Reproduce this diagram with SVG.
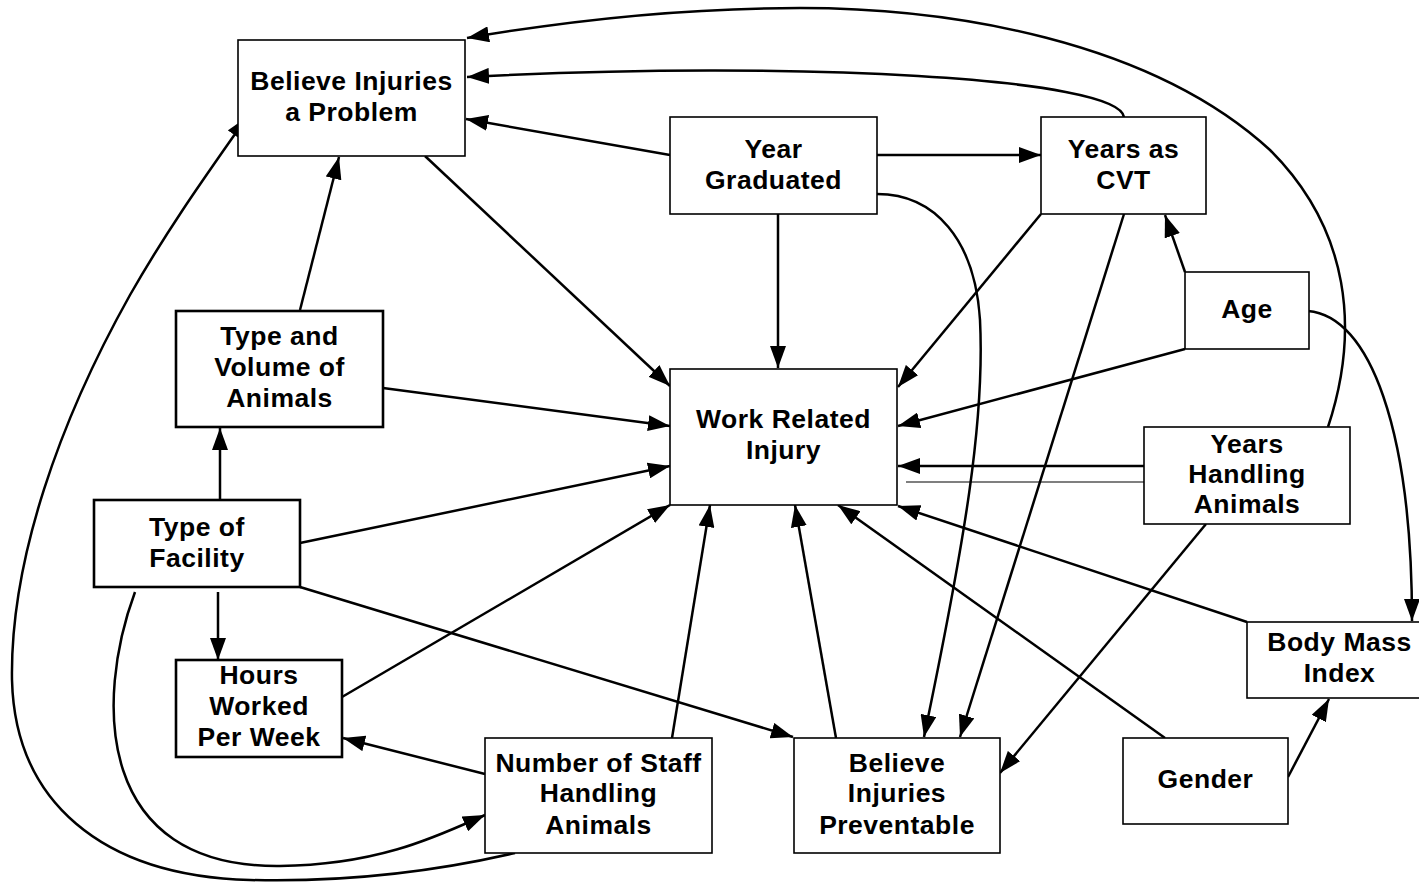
<svg xmlns="http://www.w3.org/2000/svg" width="1419" height="882" viewBox="0 0 1419 882">
<style>
.box{fill:#fff;stroke:#000;stroke-width:1.6}
.thick{stroke-width:2.6}
.lbl{font-family:"Liberation Sans",Arial,sans-serif;font-weight:bold;font-size:26.5px;letter-spacing:0.5px;text-anchor:middle;fill:#000}
.c{fill:none;stroke:#000;stroke-width:2.5;marker-end:url(#ah)}
.thin{fill:none;stroke:#000;stroke-width:1.2}
</style>
<defs>
<marker id="ah" markerUnits="userSpaceOnUse" markerWidth="22" markerHeight="16" refX="22" refY="8" orient="auto">
<path d="M0,0 L22,8 L0,16 z" fill="#000"/>
</marker>
</defs>
<rect width="1419" height="882" fill="#fff"/>
<g id="connectors">
<path class="c" d="M670,155 L466,119"/>
<path class="c" d="M1124,117 C1118,78 800,60 467,77"/>
<path class="c" d="M1328,427 C1360,330 1350,230 1270,150 C1150,40 950,8 800,8 C680,8 560,22 467,38"/>
<path class="c" d="M425,156 L670,386"/>
<path class="c" d="M300,310 L339,157"/>
<path class="c" d="M220,500 L220,428"/>
<path class="c" d="M218,592 L218,660"/>
<path class="c" d="M300,587 L793,737"/>
<path class="c" d="M300,543 L670,466"/>
<path class="c" d="M383,388 L670,426"/>
<path class="c" d="M342,697 L670,505"/>
<path class="c" d="M485,774 L343,738"/>
<path class="c" d="M672,738 L710,505"/>
<path class="c" d="M836,738 L795,505"/>
<path class="c" d="M1165,738 L838,505"/>
<path class="c" d="M1247,622 L898,506"/>
<path class="c" d="M1144,466 L898,466"/>
<path class="thin" d="M906,482 L1153,482"/>
<path class="c" d="M1185,349 L898,426"/>
<path class="c" d="M1041,214 L898,387"/>
<path class="c" d="M778,214 L778,368"/>
<path class="c" d="M877,155 L1041,155"/>
<path class="c" d="M877,194 C935,194 975,240 980,320 C985,420 965,540 924,737"/>
<path class="c" d="M1124,214 L960,737"/>
<path class="c" d="M1206,524 L1000,773"/>
<path class="c" d="M1185,272 L1165,215"/>
<path class="c" d="M1308,311 C1370,316 1412,430 1412,621"/>
<path class="c" d="M1288,777 L1329,699"/>
<path class="c" d="M135,592 C95,700 95,868 280,866 C380,865 440,835 485,815"/>
<path class="c" d="M515,853 C420,875 330,882 250,880 C100,876 15,800 12,680 C10,560 60,420 130,295 C170,225 210,170 247,117"/>
</g>
<g id="believe-problem"><rect class="box" x="238" y="40" width="227" height="116"/><text class="lbl" x="351.5" y="90">Believe Injuries</text><text class="lbl" x="351.5" y="121">a Problem</text></g>
<g id="year-graduated"><rect class="box" x="670" y="117" width="207" height="97"/><text class="lbl" x="773.5" y="158">Year</text><text class="lbl" x="773.5" y="189">Graduated</text></g>
<g id="years-cvt"><rect class="box" x="1041" y="117" width="165" height="97"/><text class="lbl" x="1123.5" y="158">Years as</text><text class="lbl" x="1123.5" y="189">CVT</text></g>
<g id="age"><rect class="box" x="1185" y="272" width="124" height="77"/><text class="lbl" x="1247" y="318">Age</text></g>
<g id="type-volume"><rect class="box thick" x="176" y="311" width="207" height="116"/><text class="lbl" x="279.5" y="345">Type and</text><text class="lbl" x="279.5" y="376">Volume of</text><text class="lbl" x="279.5" y="407">Animals</text></g>
<g id="type-facility"><rect class="box thick" x="94" y="500" width="206" height="87"/><text class="lbl" x="197" y="536">Type of</text><text class="lbl" x="197" y="567">Facility</text></g>
<g id="work-injury"><rect class="box" x="670" y="369" width="227" height="136"/><text class="lbl" x="783.5" y="428">Work Related</text><text class="lbl" x="783.5" y="459">Injury</text></g>
<g id="years-handling"><rect class="box" x="1144" y="427" width="206" height="97"/><text class="lbl" x="1247" y="453">Years</text><text class="lbl" x="1247" y="483">Handling</text><text class="lbl" x="1247" y="513">Animals</text></g>
<g id="hours-worked"><rect class="box thick" x="176" y="660" width="166" height="97"/><text class="lbl" x="259" y="684">Hours</text><text class="lbl" x="259" y="715">Worked</text><text class="lbl" x="259" y="746">Per Week</text></g>
<g id="number-staff"><rect class="box" x="485" y="738" width="227" height="115"/><text class="lbl" x="598.5" y="772">Number of Staff</text><text class="lbl" x="598.5" y="802">Handling</text><text class="lbl" x="598.5" y="834">Animals</text></g>
<g id="believe-preventable"><rect class="box" x="794" y="738" width="206" height="115"/><text class="lbl" x="897" y="772">Believe</text><text class="lbl" x="897" y="802">Injuries</text><text class="lbl" x="897" y="834">Preventable</text></g>
<g id="gender"><rect class="box" x="1123" y="738" width="165" height="86"/><text class="lbl" x="1205.5" y="788">Gender</text></g>
<g id="bmi"><rect class="box" x="1247" y="622" width="185" height="76"/><text class="lbl" x="1339.5" y="651">Body Mass</text><text class="lbl" x="1339.5" y="682">Index</text></g>
</svg>
